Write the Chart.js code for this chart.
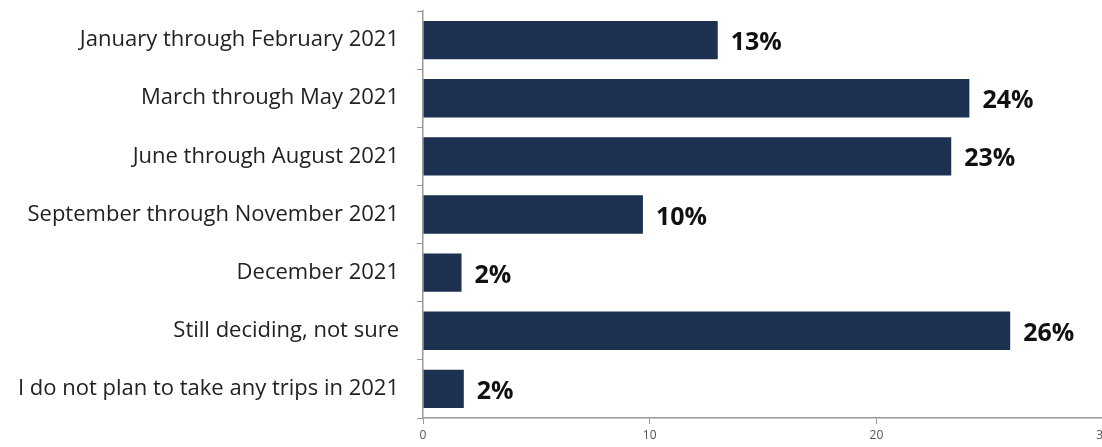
<!DOCTYPE html>
<html>
<head>
<meta charset="utf-8">
<script src="https://cdn.jsdelivr.net/npm/chart.js@4.4.1/dist/chart.umd.min.js"></script>
<style>
  html, body { margin: 0; padding: 0; background: #fff; overflow: hidden; }
  #wrap { width: 1114px; height: 447px; position: relative; }
</style>
</head>
<body>
<div id="wrap"><canvas id="chart"></canvas></div>
<script>
/* Données */
const categories = [
  "January through February 2021",
  "March through May 2021",
  "June through August 2021",
  "September through November 2021",
  "December 2021",
  "Still deciding, not sure",
  "I do not plan to take any trips in 2021"
];
const values = [13.0, 24.1, 23.3, 9.7, 1.7, 25.9, 1.8];
const valueLabels = ["13%", "24%", "23%", "10%", "2%", "26%", "2%"];
const xTicks = [0, 10, 20, 30];

/* Étiquettes de valeur à droite des barres */
const barLabels = {
  id: "barLabels",
  afterDatasetsDraw(chart) {
    const ctx = chart.ctx;
    const meta = chart.getDatasetMeta(0);
    ctx.save();
    ctx.font = "bold 25px 'Open Sans'";
    ctx.fillStyle = "#111";
    ctx.textBaseline = "middle";
    meta.data.forEach((bar, i) => {
      ctx.fillText(valueLabels[i], bar.x + 13, bar.y + 3);
    });
    ctx.restore();
  }
};

new Chart(document.getElementById("chart"), {
  type: "bar",
  data: {
    labels: categories,
    datasets: [{
      data: values,
      backgroundColor: "#1c3150",
      categoryPercentage: 1.0,
      barPercentage: 0.66
    }]
  },
  plugins: [barLabels],
  options: {
    indexAxis: "y",
    responsive: true,
    maintainAspectRatio: false,
    animation: false,
    layout: { padding: { top: 11, right: 0, bottom: 0, left: 0 } },
    plugins: { legend: { display: false }, tooltip: { enabled: false } },
    scales: {
      x: {
        min: 0,
        max: 30,
        afterBuildTicks: (scale) => { scale.ticks = xTicks.map(v => ({ value: v })); },
        afterFit: (scale) => { scale.height = 29; },
        grid: { drawOnChartArea: false, drawTicks: true, tickLength: 6, color: "#999" },
        border: { color: "#999", width: 1.5 },
        ticks: { color: "#555", font: { family: "'Open Sans'", size: 12 }, padding: 4, maxRotation: 0 }
      },
      y: {
        afterFit: (scale) => { scale.width = 423; scale.paddingTop = 0; scale.paddingBottom = 0; },
        grid: { drawOnChartArea: false, drawTicks: true, tickLength: 6, color: "#999", offset: true },
        border: { color: "#999", width: 1.5 },
        ticks: { color: "#222", font: { family: "'Open Sans'", size: 22 }, padding: 18 }
      }
    }
  }
});
</script>
</body>
</html>
